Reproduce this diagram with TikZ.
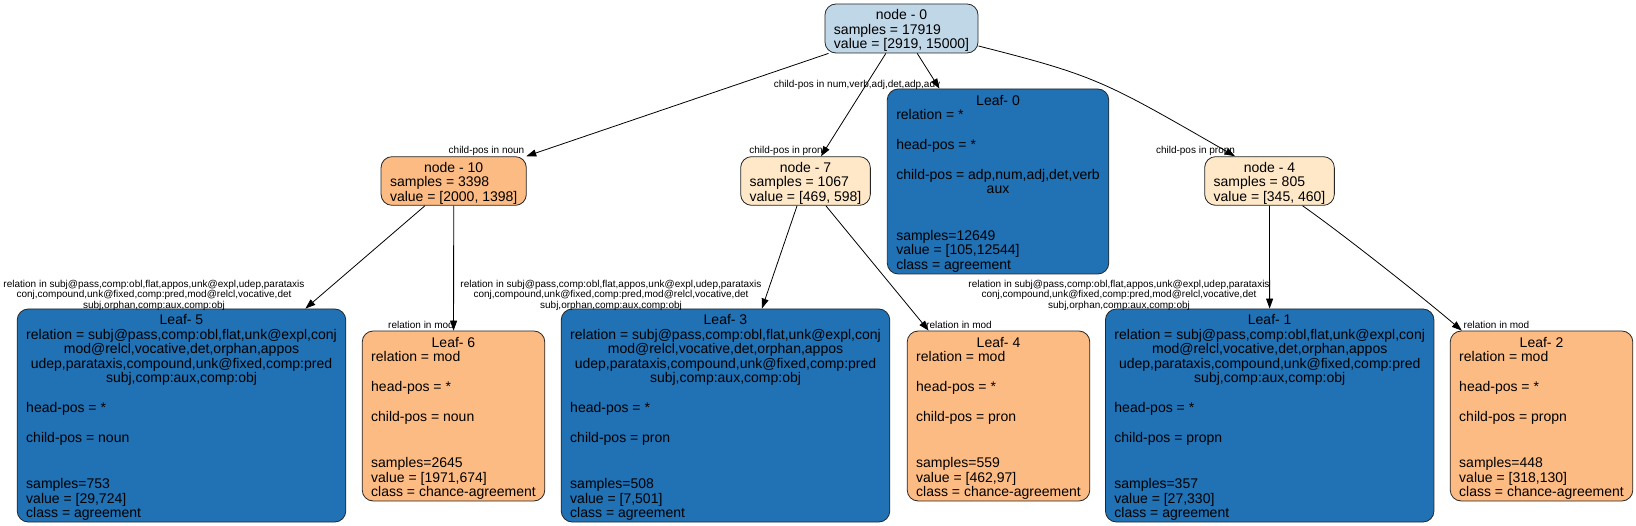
\documentclass[tikz,border=0pt]{standalone}
\usepackage{fontspec}
\setmainfont{Liberation Sans}
\usetikzlibrary{arrows.meta,calc}
\definecolor{leafblue}{RGB}{33,113,181}
\definecolor{leaforange}{RGB}{253,187,132}
\definecolor{paleorange}{RGB}{254,232,200}
\definecolor{rootblue}{RGB}{192,215,232}
\newcommand\mcline[1]{\multicolumn{1}{@{}c@{}}{#1}}
\newcommand\topstrut{\rule{0pt}{15.8pt}}
\tikzset{
  box/.style={draw=black!85, line width=0.8pt, rounded corners=11pt, inner xsep=9pt, inner ysep=0pt, font=\fontsize{14}{14}\selectfont},
  smallbox/.style={box, minimum height=48pt},
  bigleaf/.style={box, fill=leafblue, minimum width=327pt, minimum height=213pt},
  smallleaf/.style={box, fill=leaforange, minimum width=181pt, minimum height=170pt},
  elabel/.style={font=\fontsize{10}{10.5}\selectfont, inner sep=0pt, align=center},
  edge/.style={draw=black, line width=0.8pt, -{Triangle[length=10pt,width=7pt]}},
}
\begin{document}
\begin{tikzpicture}[x=1pt,y=-1pt]
\useasboundingbox (0,0) rectangle (1636,526);

% internal nodes
\node[box, fill=rootblue, minimum width=151pt, minimum height=49pt] (n0) at (901.5,28.5)
  {\begin{tabular}{@{}l@{}}\mcline{\topstrut node - 0}\\ samples = 17919\\ value = [2919, 15000]\end{tabular}};
\node[smallbox, fill=leaforange, minimum width=144pt] (n10) at (453.7,181)
  {\begin{tabular}{@{}l@{}}\mcline{\topstrut node - 10}\\ samples = 3398\\ value = [2000, 1398]\end{tabular}};
\node[smallbox, fill=paleorange, minimum width=127pt] (n7) at (805.5,181)
  {\begin{tabular}{@{}l@{}}\mcline{\topstrut node - 7}\\ samples = 1067\\ value = [469, 598]\end{tabular}};
\node[smallbox, fill=paleorange, minimum width=127pt] (n4) at (1269.5,181)
  {\begin{tabular}{@{}l@{}}\mcline{\topstrut node - 4}\\ samples = 805\\ value = [345, 460]\end{tabular}};

% leaf 0
\node[box, fill=leafblue, minimum width=220pt, minimum height=185pt] (l0) at (998,181.5)
  {\begin{tabular}{@{}l@{}}
   \mcline{\topstrut Leaf- 0}\\
   relation = *\\[15.5pt]
   head-pos = *\\[15.5pt]
   child-pos = adp,num,adj,det,verb\\
   \mcline{aux}\\[32.5pt]
   samples=12649\\
   value = [105,12544]\\
   class = agreement
   \end{tabular}};

% big leaves
\node[bigleaf] (l5) at (181.5,415.5)
  {\begin{tabular}{@{}l@{}}
   \mcline{\topstrut Leaf- 5}\\
   \mcline{relation = subj@pass,comp:obl,flat,unk@expl,conj}\\
   \mcline{mod@relcl,vocative,det,orphan,appos}\\
   \mcline{udep,parataxis,compound,unk@fixed,comp:pred}\\
   \mcline{subj,comp:aux,comp:obj}\\[15.5pt]
   head-pos = *\\[15.5pt]
   child-pos = noun\\[32.5pt]
   samples=753\\
   value = [29,724]\\
   class = agreement
   \end{tabular}};
\node[bigleaf] (l3) at (725.5,415.5)
  {\begin{tabular}{@{}l@{}}
   \mcline{\topstrut Leaf- 3}\\
   \mcline{relation = subj@pass,comp:obl,flat,unk@expl,conj}\\
   \mcline{mod@relcl,vocative,det,orphan,appos}\\
   \mcline{udep,parataxis,compound,unk@fixed,comp:pred}\\
   \mcline{subj,comp:aux,comp:obj}\\[15.5pt]
   head-pos = *\\[15.5pt]
   child-pos = pron\\[32.5pt]
   samples=508\\
   value = [7,501]\\
   class = agreement
   \end{tabular}};
\node[bigleaf] (l1) at (1269.7,415.5)
  {\begin{tabular}{@{}l@{}}
   \mcline{\topstrut Leaf- 1}\\
   \mcline{relation = subj@pass,comp:obl,flat,unk@expl,conj}\\
   \mcline{mod@relcl,vocative,det,orphan,appos}\\
   \mcline{udep,parataxis,compound,unk@fixed,comp:pred}\\
   \mcline{subj,comp:aux,comp:obj}\\[15.5pt]
   head-pos = *\\[15.5pt]
   child-pos = propn\\[32.5pt]
   samples=357\\
   value = [27,330]\\
   class = agreement
   \end{tabular}};

% small leaves
\node[smallleaf] (l6) at (453.5,416)
  {\begin{tabular}{@{}l@{}}
   \mcline{\topstrut Leaf- 6}\\
   relation = mod\\[15.5pt]
   head-pos = *\\[15.5pt]
   child-pos = noun\\[32.5pt]
   samples=2645\\
   value = [1971,674]\\
   class = chance-agreement
   \end{tabular}};
\node[smallleaf] (l4) at (998.5,416)
  {\begin{tabular}{@{}l@{}}
   \mcline{\topstrut Leaf- 4}\\
   relation = mod\\[15.5pt]
   head-pos = *\\[15.5pt]
   child-pos = pron\\[32.5pt]
   samples=559\\
   value = [462,97]\\
   class = chance-agreement
   \end{tabular}};
\node[smallleaf] (l2) at (1541.5,416)
  {\begin{tabular}{@{}l@{}}
   \mcline{\topstrut Leaf- 2}\\
   relation = mod\\[15.5pt]
   head-pos = *\\[15.5pt]
   child-pos = propn\\[32.5pt]
   samples=448\\
   value = [318,130]\\
   class = chance-agreement
   \end{tabular}};

% edges
\draw[edge] (n0) -- (n10);
\draw[edge] (n0) -- (n7);
\draw[edge] (n0) -- (l0);
\draw[edge] ($(n0.east)+(0,17.5)$) .. controls (1097,76) and (1105,81.6) .. ($(n4.north)+(-34.5,0)$);
\draw[edge] (n10) -- (l5);
\draw[edge] (n10) -- (l6);
\draw[edge] (n7) -- (l3);
\draw[edge] (n7) -- (l4);
\draw[edge] (n4) -- (l1);
\draw[edge] ($(n4.south)+(33,0)$) .. controls (1340,232) and (1420,295) .. ($(l2.north west)+(12,0)$);

% edge labels
\node[elabel] (e10) at (486.5,151) {child-pos in noun};
\node[elabel] (e7) at (786,151) {child-pos in pron};
\node[elabel] (e0) at (857,84.5) {child-pos in num,verb,adj,det,adp,adv};
\node[elabel] (e4) at (1195.5,151) {child-pos in propn};
\node[elabel] (e5) at (154,295) {relation in subj@pass,comp:obl,flat,appos,unk@expl,udep,parataxis\\conj,compound,unk@fixed,comp:pred,mod@relcl,vocative,det\\subj,orphan,comp:aux,comp:obj};
\node[elabel] (e3) at (611,295) {relation in subj@pass,comp:obl,flat,appos,unk@expl,udep,parataxis\\conj,compound,unk@fixed,comp:pred,mod@relcl,vocative,det\\subj,orphan,comp:aux,comp:obj};
\node[elabel] (e1) at (1119,295) {relation in subj@pass,comp:obl,flat,appos,unk@expl,udep,parataxis\\conj,compound,unk@fixed,comp:pred,mod@relcl,vocative,det\\subj,orphan,comp:aux,comp:obj};
\node[elabel] (e6) at (421,325) {relation in mod};
\node[elabel] (e4m) at (959,325) {relation in mod};
\node[elabel] (e2) at (1496.5,325) {relation in mod};
\end{tikzpicture}
\end{document}
